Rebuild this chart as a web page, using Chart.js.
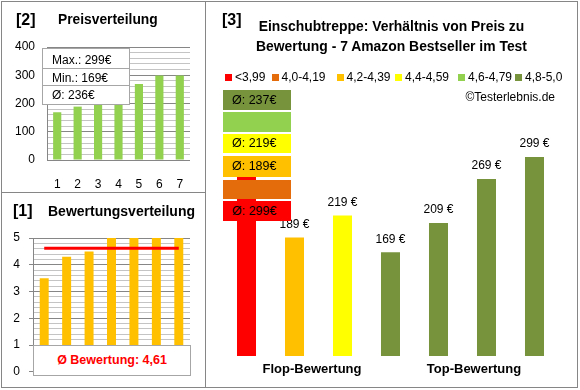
<!DOCTYPE html>
<html><head><meta charset="utf-8">
<script src="https://cdn.jsdelivr.net/npm/chart.js@4/dist/chart.umd.min.js"></script>
<style>
html,body{margin:0;padding:0;background:#fff;}
#wrap{position:relative;width:580px;height:390px;overflow:hidden;font-family:"Liberation Sans",Arial,sans-serif;color:#000;}
canvas{position:absolute;}
.ln{position:absolute;background:#868686;}
.t{position:absolute;white-space:nowrap;}
.b{font-weight:bold;}
.box{position:absolute;background:#fff;border:1px solid #a6a6a6;box-sizing:border-box;}
.row{position:absolute;left:0;right:0;font-size:12px;padding-left:9px;box-sizing:border-box;}
.band{position:absolute;left:223px;width:68px;font-size:12.5px;padding-left:9px;box-sizing:border-box;}
.sq{position:absolute;width:7px;height:7px;}
</style></head>
<body><div id="wrap">
<div style="position:absolute;left:1px;top:1px;width:577px;height:387px;border:1px solid #868686;box-sizing:border-box;"></div>
<div class="ln" style="left:205px;top:1px;width:1px;height:387px;"></div>
<div class="ln" style="left:1px;top:192px;width:204px;height:1px;"></div>

<canvas id="c1" width="205" height="192" style="left:0;top:0;"></canvas>
<canvas id="c2" width="205" height="195" style="left:0;top:193px;"></canvas>
<canvas id="c3" width="372" height="388" style="left:206px;top:0;"></canvas>

<div class="t b" style="left:16px;top:10px;font-size:16px;line-height:20px;">[2]</div>
<div class="t b" style="left:58px;top:12px;font-size:13.8px;line-height:16px;">Preisverteilung</div>
<div class="t b" style="left:13px;top:201px;font-size:16px;line-height:20px;">[1]</div>
<div class="t b" style="left:48px;top:203px;font-size:14px;line-height:16px;">Bewertungsverteilung</div>
<div class="t b" style="left:222px;top:10px;font-size:16px;line-height:20px;">[3]</div>
<div class="t b" style="left:205px;width:373px;text-align:center;top:17px;font-size:13.9px;line-height:18px;">Einschubtreppe: Verhältnis von Preis zu</div>
<div class="t b" style="left:205px;width:373px;text-align:center;top:37px;font-size:13.9px;line-height:18px;">Bewertung - 7 Amazon Bestseller im Test</div>
<div id="legend"></div>
<div class="t" style="right:25px;top:90px;font-size:12px;line-height:15px;">©Testerlebnis.de</div>
<div id="bands"></div>
<div id="groups"></div>

<div class="box" style="left:42px;top:48px;width:88px;height:57px;" id="statBox"></div>
<div class="box" style="left:33px;top:345px;width:158px;height:31px;text-align:center;line-height:29px;color:#FF0000;font-weight:bold;font-size:12.5px;" id="avgBox"></div>
</div>
<script>
// ---------- data ----------
const priceCategories = ['1','2','3','4','5','6','7'];
const sortedPrices = [169, 189, 209, 219, 269, 299, 299];
const ratingCategories = ['1','2','3','4','5','6','7'];
const sortedRatings = [3.5, 4.3, 4.5, 5.0, 5.0, 5.0, 5.0];
const productCategories = ['P1','P2','P3','P4','P5','P6','P7'];
const productRatings = [3.5, 4.3, 4.5, 5.0, 5.0, 5.0, 5.0];
const productPrices = [299, 189, 219, 169, 209, 269, 299];
const bandLabels = ['<3,99','4,0-4,19','4,2-4,39','4,4-4,59','4,6-4,79','4,8-5,0'];
const bandLower = [0, 4.0, 4.2, 4.4, 4.6, 4.8];
const bandColors = ['#FF0000','#E46C0A','#FFC000','#FFFF00','#92D050','#77933C'];
const groupLabels = ['Flop-Bewertung','Top-Bewertung'];

// ---------- derived ----------
const bandOf = r => { let k = 0; bandLower.forEach((l,i)=>{ if (r >= l) k = i; }); return k; };
const productColors = productRatings.map(r => bandColors[bandOf(r)]);
const avg = a => a.reduce((s,v)=>s+v,0)/a.length;
const priceAvg = Math.round(avg(sortedPrices));
const ratingAvg = avg(sortedRatings);
const fmt = v => v.toFixed(2).replace('.', ',');

Chart.defaults.font.family = '"Liberation Sans", Arial, sans-serif';
Chart.defaults.color = '#000';
Chart.defaults.animation = false;

// stat boxes
document.getElementById('statBox').innerHTML =
  `<div class="row" style="top:0;height:19px;line-height:22px;">Max.: ${Math.max(...sortedPrices)}€</div>`+
  `<div class="row" style="top:19px;height:18px;line-height:18px;border-top:1px solid #a6a6a6;">Min.: ${Math.min(...sortedPrices)}€</div>`+
  `<div class="row" style="top:36px;height:19px;line-height:18px;border-top:1px solid #a6a6a6;">Ø: ${priceAvg}€</div>`;
document.getElementById('avgBox').textContent = 'Ø Bewertung: ' + fmt(ratingAvg);

// legend (layout positions)
const legendX = [225, 271.5, 336.5, 395, 458, 515];
let lg = '';
bandLabels.forEach((lab,i)=>{
  lg += `<div class="sq" style="left:${legendX[i]}px;top:74px;background:${bandColors[i]}"></div>`;
  lg += `<div class="t" style="left:${legendX[i]+10}px;top:70px;font-size:12px;line-height:15px;">${lab}</div>`;
});
document.getElementById('legend').innerHTML = lg;

// band average boxes (layout: top, height), stacked from top = highest band
const bandBoxLayout = [[201,20],[180,19],[156,21],[134,19],[112,20],[90,20]];
let bh = '';
bandColors.forEach((c,i)=>{
  const prices = productPrices.filter((p,j)=>bandOf(productRatings[j])===i);
  const txt = prices.length ? 'Ø: ' + Math.round(avg(prices)) + '€' : '';
  const [top,h] = bandBoxLayout[i];
  bh += `<div class="band" style="top:${top}px;height:${h}px;line-height:${h}px;background:${c}">${txt}</div>`;
});
document.getElementById('bands').innerHTML = bh;

// group labels
const groupX = [312, 474];
document.getElementById('groups').innerHTML = groupLabels.map((g,i)=>
  `<div class="t b" style="left:${groupX[i]-60}px;width:120px;text-align:center;top:361px;font-size:13px;line-height:16px;">${g}</div>`).join('');

const isMajor = (v, step) => Math.abs(v/step - Math.round(v/step)) < 1e-6;

// ---------- chart 1: Preisverteilung ----------
new Chart(document.getElementById('c1'), {
  type: 'bar',
  data: { labels: priceCategories, datasets: [{ data: sortedPrices, backgroundColor: '#92D050', barPercentage: 0.4, categoryPercentage: 1 }] },
  options: {
    responsive: false, devicePixelRatio: 1,
    layout: { padding: { top: 47, right: 15, left: 0, bottom: 0 } },
    plugins: { legend: { display: false }, tooltip: { enabled: false } },
    scales: {
      x: { grid: { display: false }, border: { display: false },
           ticks: { font: { size: 12 }, padding: 9 },
           afterFit: s => { s.height = 32; } },
      y: { min: 0, max: 400,
           ticks: { stepSize: 20, autoSkip: false, font: { size: 12 }, padding: 12,
                    callback: v => isMajor(v,100) ? v : '' },
           grid: { drawTicks: false, color: c => isMajor(c.tick.value,100) ? '#868686' : '#c4c4c4' },
           border: { display: true, color: '#868686' },
           afterFit: s => { s.width = 47; } }
    }
  }
});

// ---------- chart 2: Bewertungsverteilung ----------
new Chart(document.getElementById('c2'), {
  type: 'bar',
  data: { labels: ratingCategories, datasets: [
    { type: 'line', data: ratingCategories.map(()=>ratingAvg), borderColor: '#FF0000', borderWidth: 3, pointRadius: 0, order: 0 },
    { data: sortedRatings, backgroundColor: '#FFC000', barPercentage: 0.4, categoryPercentage: 1, order: 1 }
  ] },
  options: {
    responsive: false, devicePixelRatio: 1,
    layout: { padding: { top: 45, right: 15, left: 0, bottom: 15 } },
    plugins: { legend: { display: false }, tooltip: { enabled: false } },
    scales: {
      x: { display: false },
      y: { min: 0, max: 5,
           ticks: { stepSize: 0.2, autoSkip: false, font: { size: 12 }, padding: 9,
                    callback: v => isMajor(v,1) ? Math.round(v) : '' },
           grid: { drawTicks: true, tickLength: 4,
                   color: c => isMajor(c.tick.value,1) ? '#868686' : '#c4c4c4',
                   tickColor: c => isMajor(c.tick.value,1) ? '#868686' : 'rgba(0,0,0,0)' },
           border: { display: true, color: '#868686' },
           afterFit: s => { s.width = 33; } }
    }
  }
});

// ---------- chart 3: Preis zu Bewertung ----------
const barValueLabels = {
  id: 'barValueLabels',
  afterDatasetsDraw(chart) {
    const ctx = chart.ctx, meta = chart.getDatasetMeta(0);
    ctx.save();
    ctx.font = '12px "Liberation Sans", Arial, sans-serif';
    ctx.fillStyle = '#000'; ctx.textAlign = 'center'; ctx.textBaseline = 'middle';
    meta.data.forEach((bar, i) => ctx.fillText(chart.data.datasets[0].data[i] + ' €', bar.x, bar.y - 13));
    ctx.restore();
  }
};
new Chart(document.getElementById('c3'), {
  type: 'bar',
  data: { labels: productCategories, datasets: [{ data: productPrices, backgroundColor: productColors, barPercentage: 0.396, categoryPercentage: 1 }] },
  options: {
    responsive: false, devicePixelRatio: 1,
    layout: { padding: { top: 100, right: 19.5, left: 16.5, bottom: 32 } },
    plugins: { legend: { display: false }, tooltip: { enabled: false } },
    scales: {
      x: { display: false },
      y: { display: false, min: 27.5, max: 376.7 }
    }
  },
  plugins: [barValueLabels]
});
</script>
</body></html>
